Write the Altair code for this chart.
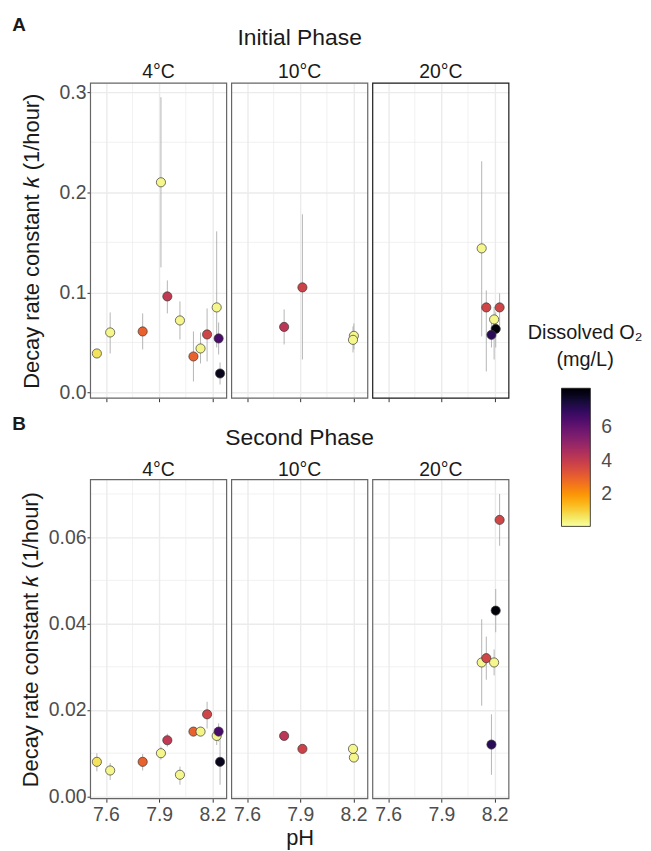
import altair as alt
import pandas as pd

# ---------------- data ----------------
temp_labels = ["4°C", "10°C", "20°C"]
phase_names = ["Initial Phase", "Second Phase"]
panel_tags = ["A", "B"]
legend_title = ["Dissolved O₂", "(mg/L)"]

temp = ["4°C"] * 12 + ["10°C"] * 4 + ["20°C"] * 6
ph = [7.549, 7.624, 7.807, 7.910, 7.946, 8.017, 8.093, 8.133, 8.170, 8.224, 8.235, 8.243,
      7.809, 7.912, 8.202, 8.197,
      8.127, 8.153, 8.228, 8.197, 8.206, 8.182]
o2 = [0.7, 0.3, 3.0, 0.3, 4.1, 0.3, 3.0, 0.35, 3.7, 0.3, 6.5, 7.9,
      4.2, 3.8, 0.3, 0.3,
      0.3, 3.7, 3.7, 0.3, 8.2, 7.1]

k_init = [0.039, 0.060, 0.061, 0.210, 0.096, 0.072, 0.036, 0.044, 0.058, 0.085, 0.054, 0.019,
          0.0655, 0.105, 0.0566, 0.0526,
          0.144, 0.085, 0.085, 0.073, 0.0635, 0.0576]
k_init_lo = [0.035, 0.039, 0.043, 0.125, 0.079, 0.053, 0.011, 0.029, 0.031, 0.045, 0.038, 0.008,
             0.048, 0.033, 0.043, 0.040,
             0.056, 0.021, 0.066, 0.033, 0.045, 0.045]
k_init_hi = [0.043, 0.080, 0.079, 0.295, 0.112, 0.091, 0.061, 0.060, 0.084, 0.161, 0.070, 0.030,
             0.083, 0.178, 0.069, 0.066,
             0.231, 0.102, 0.099, 0.0855, 0.080, 0.070]

k_sec = [0.008, 0.006, 0.008, 0.010, 0.013, 0.005, 0.015, 0.015, 0.019, 0.014, 0.015, 0.008,
         0.014, 0.011, 0.009, 0.011,
         0.031, 0.032, 0.064, 0.031, 0.043, 0.012]
k_sec_lo = [0.0058, 0.0038, 0.006, 0.0085, 0.0115, 0.0027, 0.014, 0.014, 0.0157, 0.0119, 0.0127, 0.0027,
            0.0133, 0.0103, 0.0085, 0.0105,
            0.021, 0.027, 0.058, 0.028, 0.038, 0.005]
k_sec_hi = [0.010, 0.0077, 0.0098, 0.0115, 0.0145, 0.0069, 0.016, 0.016, 0.0219, 0.0157, 0.0169, 0.0138,
            0.0147, 0.0117, 0.0095, 0.0115,
            0.041, 0.037, 0.070, 0.034, 0.048, 0.019]

x_ticks = [7.6, 7.9, 8.2]
x_minor = [7.75, 8.05]
y_ticks = [[0.0, 0.1, 0.2, 0.3], [0.0, 0.02, 0.04, 0.06]]
y_minor = [[0.05, 0.15, 0.25], [0.01, 0.03, 0.05, 0.07]]
y_formats = [".1f", ".2f"]
o2_ticks = [2, 4, 6]

df = pd.DataFrame(dict(temp=temp, ph=ph, o2=o2,
                       k0=k_init, lo0=k_init_lo, hi0=k_init_hi,
                       k1=k_sec, lo1=k_sec_lo, hi1=k_sec_hi))

# ---------------- styling ----------------
FONT = "Liberation Sans"
W = 137
HEIGHTS = [317, 321]
XDOM = [7.513, 8.28]
YDOMS = [[-0.0057, 0.309], [-0.00053, 0.0733]]
GRID = "#ebebeb"
LABEL = "#4d4d4d"
DARK = "#1a1a1a"
BORDERS = [["#666666", "#666666", "#1a1a1a"], ["#666666", "#666666", "#666666"]]

fill_scale = alt.Scale(scheme="inferno", reverse=True, domain=[0.1, 8.3])
legend = alt.Legend(
    title=None, orient="none", legendX=474, legendY=307,
    direction="vertical", values=o2_ticks, gradientLength=139, gradientThickness=29,
    gradientStrokeColor=DARK, gradientStrokeWidth=0.8, labelFontSize=19.5,
    labelColor=LABEL, labelOffset=11, padding=0, labelFont=FONT)


def panel(p, ti):
    t = temp_labels[ti]
    d = df[df.temp == t]
    h = HEIGHTS[p]
    xscale = alt.Scale(domain=XDOM, nice=False, zero=False)
    yscale = alt.Scale(domain=YDOMS[p], nice=False, zero=False)
    xaxis = alt.Axis(values=x_ticks, format=".1f", labels=(p == 1), ticks=True,
                     tickSize=3.5, tickColor="#333333", domain=False,
                     grid=True, gridColor=GRID, gridWidth=1.4,
                     labelFontSize=19.5, labelColor=LABEL, labelPadding=3,
                     titleFontSize=22, titleFontWeight="normal", titleColor=DARK,
                     titlePadding=4, labelFont=FONT, titleFont=FONT)
    first = ti == 0
    yaxis = alt.Axis(values=y_ticks[p], format=y_formats[p], labels=first, ticks=first,
                     tickSize=3.5, tickColor="#333333", domain=False,
                     grid=True, gridColor=GRID, gridWidth=1.4,
                     labelFontSize=19.5, labelColor=LABEL, labelPadding=1,
                     titleFontSize=22, titleFontWeight="normal", titleColor=DARK,
                     titlePadding=(16 if p == 0 else 6), labelFont=FONT, titleFont=FONT)
    xtitle = "pH" if (p == 1 and ti == 1) else None
    ytitle = "Decay rate constant 𝑘 (1/hour)" if first else None

    X = lambda f: alt.X(f, scale=xscale, axis=xaxis, title=xtitle)
    Y = lambda f: alt.Y(f, scale=yscale, axis=yaxis, title=ytitle)

    vminor = alt.Chart(pd.DataFrame({"v": x_minor})).mark_rule(
        color=GRID, strokeWidth=0.7).encode(x=X("v:Q"))
    hminor = alt.Chart(pd.DataFrame({"v": y_minor[p]})).mark_rule(
        color=GRID, strokeWidth=0.7).encode(y=Y("v:Q"))
    err = alt.Chart(d).mark_rule(color="#a3a3a3", strokeWidth=0.8).encode(
        x=X("ph:Q"), y=Y(f"lo{p}:Q"), y2=f"hi{p}:Q")
    pts = alt.Chart(d).mark_circle(size=85, opacity=1, stroke="#383838",
                                   strokeWidth=0.7).encode(
        x=X("ph:Q"), y=Y(f"k{p}:Q"),
        fill=alt.Fill("o2:Q", scale=fill_scale, legend=legend))
    border = alt.Chart(pd.DataFrame({"a": [0]})).mark_rect(
        fillOpacity=0, stroke=BORDERS[p][ti], strokeWidth=1.2).encode(
        x=alt.value(0), x2=alt.value(W), y=alt.value(0), y2=alt.value(h))
    header = alt.Chart(pd.DataFrame({"t": [t]})).mark_text(
        align="center", baseline="alphabetic", fontSize=19.5, color=DARK, font=FONT
    ).encode(text="t:N", x=alt.value(W / 2), y=alt.value(-5.3 if p == 0 else -3.7))
    layers = [vminor, hminor, err, pts, border, header]
    if ti == 0:
        tag = alt.Chart(pd.DataFrame({"t": [panel_tags[p]]})).mark_text(
            align="left", baseline="alphabetic", fontSize=19, fontWeight="bold",
            color=DARK, font=FONT
        ).encode(text="t:N", x=alt.value(-78.7), y=alt.value(-52.3 if p == 0 else -49.7))
        layers.append(tag)
    if ti == 1:
        ttl = alt.Chart(pd.DataFrame({"t": [phase_names[p]]})).mark_text(
            align="center", baseline="alphabetic", fontSize=23, color=DARK, font=FONT
        ).encode(text="t:N", x=alt.value(W / 2), y=alt.value(-38.3 if p == 0 else -34.7))
        layers.append(ttl)
    if p == 0 and ti == 2:
        for line, yy in zip(legend_title, [257.7, 284.4]):
            lt = alt.Chart(pd.DataFrame({"t": [line]})).mark_text(
                align="center", baseline="alphabetic", fontSize=20, color=DARK, font=FONT
            ).encode(text="t:N", x=alt.value(213.7), y=alt.value(yy))
            layers.append(lt)
    return alt.layer(*layers).properties(width=W, height=h)


panels = [panel(p, ti) for p in range(2) for ti in range(3)]
chart = alt.concat(*panels, columns=3, spacing={"row": 82, "column": 5},
                   bounds="flush", align="each").configure(
    font=FONT, padding={"left": 4, "top": 5, "right": 0, "bottom": 5}
).configure_view(strokeWidth=0)

chart.save("out.html", embed_options={"renderer": "svg", "actions": False})
